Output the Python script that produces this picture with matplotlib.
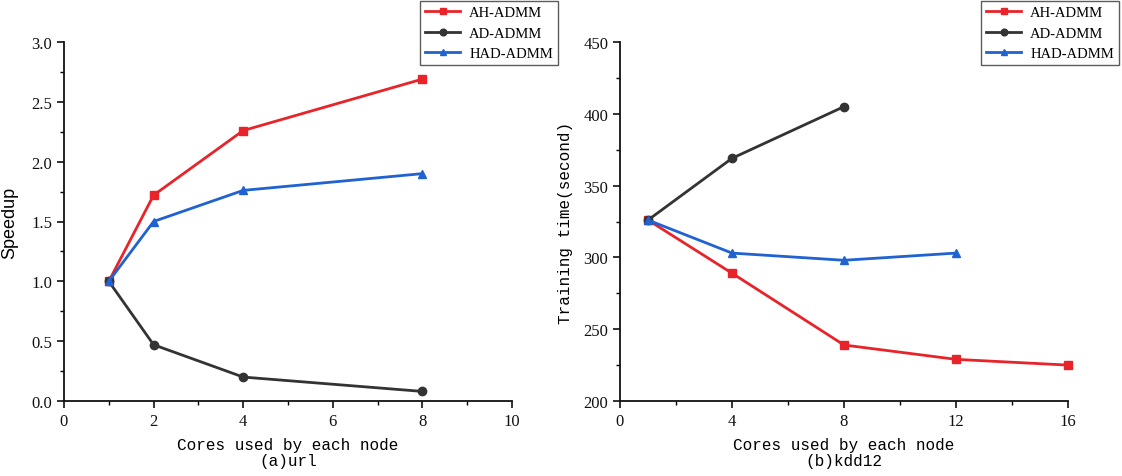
import matplotlib
matplotlib.use("Agg")
import matplotlib.pyplot as plt
from matplotlib.ticker import MultipleLocator

# ---- data ----
x_url = [1, 2, 4, 8]
ah_url = [1.0, 1.72, 2.26, 2.69]
ad_url = [1.0, 0.47, 0.20, 0.08]
had_url = [1.0, 1.50, 1.76, 1.90]

x_kdd_ah = [1, 4, 8, 12, 16]
ah_kdd = [326, 289, 239, 229, 225]
x_kdd_ad = [1, 4, 8]
ad_kdd = [326, 369, 405]
x_kdd_had = [1, 4, 8, 12]
had_kdd = [326, 303, 298, 303]

labels = ["AH-ADMM", "AD-ADMM", "HAD-ADMM"]

RED = "#e8242a"
BLACK = "#333333"
BLUE = "#1f62d0"

plt.rcParams['font.family'] = ['Liberation Serif', 'DejaVu Serif']

fig = plt.figure(figsize=(11.22, 4.77), dpi=100)
ax1 = fig.add_axes([64/1122, 1-402/477, 448/1122, 359/477])
ax2 = fig.add_axes([620/1122, 1-402/477, 448/1122, 359/477])

def style(ax):
    for s in ["top", "right"]:
        ax.spines[s].set_visible(False)
    for s in ["left", "bottom"]:
        ax.spines[s].set_linewidth(1.3)
        ax.spines[s].set_color("#111111")
    ax.tick_params(which="major", direction="out", length=5, width=1.2, labelsize=12, colors="#111111")
    ax.tick_params(which="minor", direction="out", length=3, width=1.0)

mono = ['Liberation Mono', 'DejaVu Sans Mono']

def plot_set(ax, data):
    hs = []
    for (xx, yy), c, m, lab in zip(data, [RED, BLACK, BLUE], ["s", "o", "^"], labels):
        h, = ax.plot(xx, yy, color=c, marker=m, markersize=6, linewidth=2.0, label=lab)
        hs.append(h)
    return hs

def add_legend(hs, x1):
    leg = fig.legend(hs, labels, loc="upper right", bbox_to_anchor=(x1/1122, 1-2/477), frameon=True,
                     fancybox=False, edgecolor="#333333", fontsize=10.5, handlelength=2.4,
                     borderpad=0.35, labelspacing=0.5, handletextpad=0.6, borderaxespad=0,
                     markerscale=0.8)
    leg.get_frame().set_linewidth(1.0)
    return leg

hs = plot_set(ax1, [(x_url, ah_url), (x_url, ad_url), (x_url, had_url)])
ax1.set_xlim(0, 10)
ax1.set_ylim(0, 3.0)
ax1.xaxis.set_major_locator(MultipleLocator(2))
ax1.xaxis.set_minor_locator(MultipleLocator(1))
ax1.yaxis.set_major_locator(MultipleLocator(0.5))
ax1.yaxis.set_minor_locator(MultipleLocator(0.25))
ax1.set_yticks([0, 0.5, 1.0, 1.5, 2.0, 2.5, 3.0])
ax1.set_yticklabels(["0.0", "0.5", "1.0", "1.5", "2.0", "2.5", "3.0"])
style(ax1)
ax1.set_xlabel("Cores used by each node\n(a)url", fontsize=11.5, family=mono, linespacing=1.1, labelpad=6)
ax1.set_ylabel("Speedup", fontsize=13, family=['Liberation Sans', 'DejaVu Sans'])
ax1.yaxis.set_label_coords(-0.103, 0.5)
add_legend(hs, 558)

hs2 = plot_set(ax2, [(x_kdd_ah, ah_kdd), (x_kdd_ad, ad_kdd), (x_kdd_had, had_kdd)])
ax2.set_xlim(0, 16)
ax2.set_ylim(200, 450)
ax2.xaxis.set_major_locator(MultipleLocator(4))
ax2.xaxis.set_minor_locator(MultipleLocator(2))
ax2.yaxis.set_major_locator(MultipleLocator(50))
ax2.yaxis.set_minor_locator(MultipleLocator(25))
style(ax2)
ax2.set_xlabel("Cores used by each node\n(b)kdd12", fontsize=11.5, family=mono, linespacing=1.1, labelpad=6)
ax2.set_ylabel("Training time(second)", fontsize=11.5, family=mono)
ax2.yaxis.set_label_coords(-0.105, 0.5)
add_legend(hs2, 1119)

for ax in (ax1, ax2):
    for line in ax.lines:
        line.set_clip_on(False)

fig.savefig("out.png", dpi=100)
